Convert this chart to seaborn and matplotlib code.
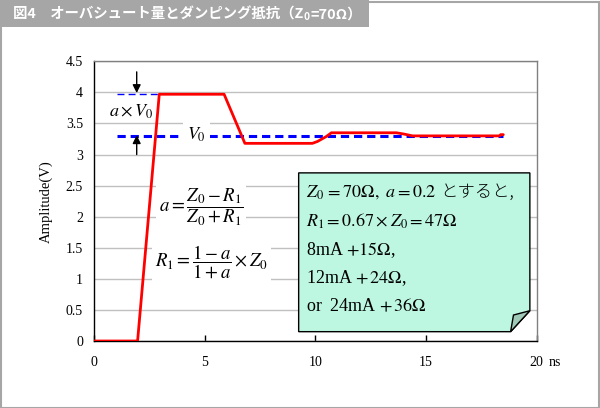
import matplotlib
matplotlib.use("Agg")
import matplotlib.pyplot as plt
import seaborn as sns
import pandas as pd
from matplotlib.patches import Rectangle, Polygon

# ---- data ----
time_ns = [0, 1.97, 2.95, 5.88, 6.82, 9.87, 10.1, 10.3, 10.5, 10.73, 13.67, 14.0, 14.4, 18.33, 18.38, 18.5]
amplitude = [0, 0, 3.97, 3.97, 3.18, 3.18, 3.21, 3.25, 3.29, 3.35, 3.35, 3.33, 3.30, 3.30, 3.32, 3.32]
v0_time = [1.04, 18.5]
v0_level = [3.30, 3.30]
peak_time = [1.04, 2.95]
peak_level = [3.97, 3.97]
x_ticks = [0, 5, 10, 15, 20]
x_ticklabels = ["0", "5", "10", "15", "20"]
y_ticks = [0, 0.5, 1, 1.5, 2, 2.5, 3, 3.5, 4, 4.5]
y_ticklabels = ["0", "0.5", "1", "1.5", "2", "2.5", "3", "3.5", "4", "4.5"]

sns.set_theme(style="white")
plt.rcParams["font.family"] = ["Liberation Serif", "Noto Sans CJK JP"]
plt.rcParams["mathtext.fontset"] = "stix"

fig = plt.figure(figsize=(6, 4.08), dpi=100)
W, H = 600, 408
ax = fig.add_axes([94 / W, 1 - 341 / H, (536.5 - 94) / W, (341 - 61.3) / H])

df = pd.DataFrame({"t": time_ns, "v": amplitude})
dv0 = pd.DataFrame({"t": v0_time, "v": v0_level})
dpk = pd.DataFrame({"t": peak_time, "v": peak_level})

sns.lineplot(data=dpk, x="t", y="v", ax=ax, color="#0000ff", lw=1.0,
             linestyle=(0, (5, 3)), zorder=3)
sns.lineplot(data=dv0, x="t", y="v", ax=ax, color="#0000ff", lw=2.2,
             linestyle=(0, (2.7, 1.6)), zorder=3)
sns.lineplot(data=df, x="t", y="v", ax=ax, color="#ff0000", lw=2.0, zorder=4)

ax.set_xlim(0, 20)
ax.set_ylim(0, 4.5)
ax.set_xticks(x_ticks)
ax.set_xticklabels(x_ticklabels)
ax.set_yticks(y_ticks)
ax.set_yticklabels(y_ticklabels)
ax.tick_params(axis="x", direction="in", length=4, width=1, color="black",
               labelsize=10, pad=11, bottom=True)
ax.tick_params(axis="y", length=0, labelsize=10, pad=8, left=False)
for lab in ax.get_xticklabels() + ax.get_yticklabels():
    lab.set_color("black")
ax.yaxis.grid(True, color="#c0c0c0", lw=1.0)
ax.xaxis.grid(False)
ax.set_axisbelow(True)
ax.set_xlabel("")
ax.set_ylabel("Amplitude(V)", fontsize=10.5, color="black")
ax.yaxis.set_label_coords(-(94 - 53) / 442.5, 0.5)
for side in ["left", "bottom"]:
    ax.spines[side].set_color("black")
    ax.spines[side].set_linewidth(1.0)
for side in ["top", "right"]:
    ax.spines[side].set_color("#808080")
    ax.spines[side].set_linewidth(1.0)

ax.annotate("ns", xy=(1, 0), xycoords="axes fraction", xytext=(12, -22),
            textcoords="offset pixels", ha="left", va="center", fontsize=10,
            color="black")

# arrows and labels
ax.annotate("", xy=(1.93, 3.99), xytext=(1.93, 4.33),
            arrowprops=dict(arrowstyle="-|>", color="black", lw=1.0,
                            mutation_scale=12, shrinkA=0, shrinkB=0), zorder=6)
ax.annotate("", xy=(1.93, 3.31), xytext=(1.93, 3.0),
            arrowprops=dict(arrowstyle="-|>", color="black", lw=1.0,
                            mutation_scale=12, shrinkA=0, shrinkB=0), zorder=6)
ax.text(1.67, 3.69, r"$a\times V_0$", fontsize=13, ha="center", va="center",
        color="black", zorder=6)
ax.text(4.65, 3.31, r"$V_0$", fontsize=13, ha="center", va="center", color="black",
        zorder=6, bbox=dict(facecolor="white", edgecolor="none", pad=3))
ax.text(4.85, 2.15, r"$a=\dfrac{Z_0-R_1}{Z_0+R_1}$", fontsize=13.5, ha="center",
        va="center", color="black", zorder=6,
        bbox=dict(facecolor="white", edgecolor="none", pad=2))
ax.text(5.3, 1.27, r"$R_1=\dfrac{1-a}{1+a}\times Z_0$", fontsize=13.5, ha="center",
        va="center", color="black", zorder=6,
        bbox=dict(facecolor="white", edgecolor="none", pad=2))

# note box with folded corner
bx0, bx1, by0, by1 = 9.25, 19.7, 0.15, 2.705
cx, cy = 18.83, 0.487
box = Polygon([(bx0, by0), (bx0, by1), (bx1, by1), (bx1, cy), (cx, by0)],
              closed=True, facecolor="#bdf7e2", edgecolor="black", lw=1.0,
              zorder=7, clip_on=False)
ax.add_patch(box)
flap = Polygon([(bx1, cy), (cx, by0), (18.96, 0.418)], closed=True,
               facecolor="#9fcab8", edgecolor="black", lw=1.0, zorder=8,
               clip_on=False)
ax.add_patch(flap)
lines = [
    r"$Z_0\,=70\Omega,\ a=0.2$",
    r"$R_1=0.67\times Z_0=47\Omega$",
    r"8mA $+15\Omega$,",
    r"12mA $+\,24\Omega$,",
    r"or  24mA $+\,36\Omega$",
]
ys = [2.40, 1.93, 1.46, 1.01, 0.55]
box_texts = []
for s, y in zip(lines, ys):
    box_texts.append(ax.text(9.57, y, s, fontsize=13, ha="left", va="center",
                             color="black", zorder=9))

# title bar and border
fig.patches.append(Rectangle((0, 1 - 27 / H), 369 / W, 27 / H,
                             transform=fig.transFigure, facecolor="#a6a6a6",
                             edgecolor="none", zorder=0))
fig.patches.append(Rectangle((0.5 / W, 0.5 / H), (W - 2) / W, (H - 2) / H,
                             transform=fig.transFigure, facecolor="none",
                             edgecolor="#a6a6a6", lw=1.5, zorder=10))
tfam = ["Noto Sans CJK JP", "DejaVu Sans"]
t1 = fig.text(13 / W, 1 - 19 / H, "図4　オーバシュート量とダンピング抵抗（Z",
              fontsize=10.4, fontweight="bold", color="white", family=tfam,
              ha="left", va="baseline")

fig.canvas.draw()
r = fig.canvas.get_renderer()
bb = t1.get_window_extent(r)
x_end = bb.x1 / W
fig.text(x_end + 0.5 / W, 1 - 20.5 / H, "0", fontsize=7.3, fontweight="bold",
         color="white", family=tfam, ha="left", va="baseline")
fig.text(x_end + 7 / W, 1 - 19 / H, "=70Ω）", fontsize=10.4, fontweight="bold",
         color="white", family=tfam, ha="left", va="baseline")

bb2 = box_texts[0].get_window_extent(r)
cy_disp = (bb2.y0 + bb2.y1) / 2
fig.text(bb2.x1 / W + 4 / W, cy_disp / H, "とすると,", fontsize=12.5,
         color="black", family=["Noto Sans CJK JP"], fontweight="light",
         ha="left", va="center", zorder=10)

fig.savefig("out.png", dpi=100)
